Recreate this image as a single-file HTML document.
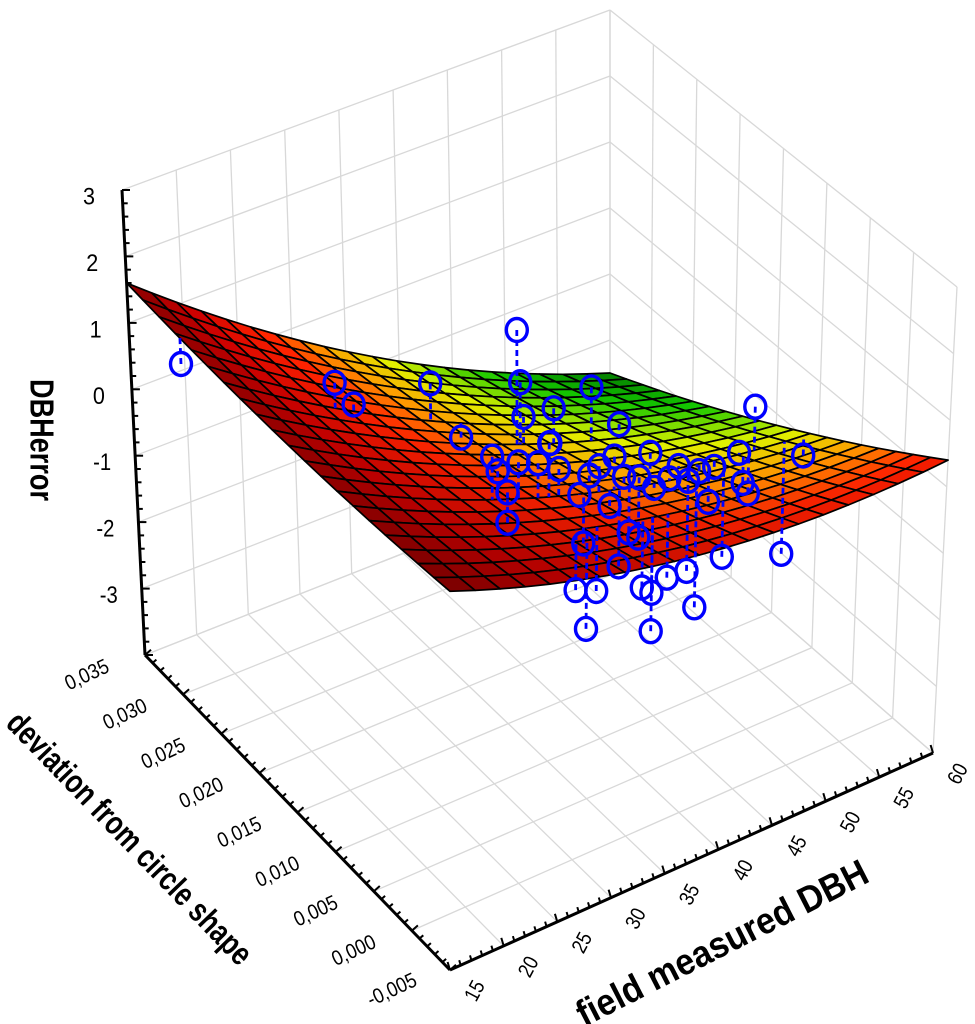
<!DOCTYPE html>
<html><head><meta charset="utf-8"><title>DBH error surface</title>
<style>html,body{margin:0;padding:0;background:#fff}svg{display:block}text{font-family:"Liberation Sans",Arial,sans-serif}</style>
</head><body>
<svg id="chart" width="975" height="1024" viewBox="0 0 975 1024" xmlns="http://www.w3.org/2000/svg">
<g id="walls"></g>
<g id="surf"></g>
<g id="pts"></g>
<g id="axes"></g>
</svg>
<script>
// ---- data ----
const dbhRange = [15, 60];
const devRange = [-0.005, 0.035];
const zRange = [-4, 3];
const dbhTicks = [15, 20, 25, 30, 35, 40, 45, 50, 55, 60];
const devTicks = [-0.005, 0.000, 0.005, 0.010, 0.015, 0.020, 0.025, 0.030, 0.035];
const devTickLabels = ["-0,005","0,000","0,005","0,010","0,015","0,020","0,025","0,030","0,035"];
const zTicks = [-3, -2, -1, 0, 1, 2, 3];
// fitted surface coefficients in normalized coords: c0 + c1*u + c2*v + c3*u*v + c4*u^2 + c5*v^2
const surfaceCoef = [1.5, -2.8, -0.4, -3.0, 1.7, 0.5];
// observations
const obsDBH = [15.4,25.1,26.8,33.9,36.7,38.9,39.2,39.5,42.3,42.0,45.8,48.4,54.8,59.4,53.4,53.8,54.3,57.6,52.0,51.1,49.7,50.6,47.8,48.7,49.5,48.7,29.1,29.6,30.5,30.5,31.5,33.3,35.2,34.3,37.1,38.0,38.9,39.9,40.3,41.2,42.6,43.6,44.0,45.4,37.5,41.7,42.6,40.8,32.3,34.2,38.4,39.3,40.7,33.3,39.3];
const obsDev = [0.029,0.023,0.023,0.023,0.023,0.019,0.019,0.019,0.019,0.019,0.019,0.019,0.011,0.011,0.011,0.011,0.011,0.011,0.011,0.011,0.011,0.011,0.011,0.011,0.011,0.011,0.009,0.009,0.009,0.009,0.009,0.009,0.009,0.009,0.009,0.009,0.009,0.009,0.009,0.009,0.009,0.009,0.009,0.009,0.009,0.009,0.009,0.009,0.003,0.003,0.003,0.003,0.003,0.003,0.003];
const obsErr = [1.04,0.83,0.40,0.27,-0.72,1.19,0.39,-0.15,-0.20,-0.70,-0.11,-0.83,-0.13,-1.17,-0.73,-1.21,-1.40,-2.53,-2.20,-0.79,-0.76,-1.28,-0.56,-0.84,-2.79,-2.19,1.02,0.77,0.40,-0.05,0.78,0.65,0.44,0.88,-0.07,0.16,0.24,-0.42,0.29,-0.07,-0.17,0.13,-0.42,-0.37,-0.82,-0.93,-1.07,-1.38,-0.51,-0.65,-0.88,-1.02,-0.89,-1.15,-1.59];

// ---- projection (u: DBH, v: deviation, w: z) ----
const FL = {a:[450,970], b:[933,753], c:[145,655], d:[610,472]};
const TP = {a:[450,488], b:[957,287], c:[122,190], d:[610,10]};
function bil(q,u,v){return [
  q.a[0]*(1-u)*(1-v)+q.b[0]*u*(1-v)+q.c[0]*(1-u)*v+q.d[0]*u*v,
  q.a[1]*(1-u)*(1-v)+q.b[1]*u*(1-v)+q.c[1]*(1-u)*v+q.d[1]*u*v];}
function P(u,v,w){const f=bil(FL,u,v),t=bil(TP,u,v);return [f[0]+(t[0]-f[0])*w,f[1]+(t[1]-f[1])*w];}
const uS = d => (d-dbhRange[0])/(dbhRange[1]-dbhRange[0]);
const vS = d => (d-devRange[0])/(devRange[1]-devRange[0]);
const wS = z => (z-zRange[0])/(zRange[1]-zRange[0]);
function surfZ(u,v){const c=surfaceCoef;return c[0]+c[1]*u+c[2]*v+c[3]*u*v+c[4]*u*u+c[5]*v*v;}

const NS="http://www.w3.org/2000/svg";
function mk(tag,attrs,parent){const e=document.createElementNS(NS,tag);for(const k in attrs)e.setAttribute(k,attrs[k]);parent.appendChild(e);return e;}
const walls=document.getElementById('walls'),surf=document.getElementById('surf'),pts=document.getElementById('pts'),axes=document.getElementById('axes');
function gl(p,q,parent,name,stroke,sw){const l=mk('line',{x1:p[0].toFixed(1),y1:p[1].toFixed(1),x2:q[0].toFixed(1),y2:q[1].toFixed(1),stroke:stroke,'stroke-width':sw},parent);


return l;}

// grid walls
const gc="#d8d8d8";
dbhTicks.forEach(d=>{const u=uS(d);gl(P(u,1,0),P(u,1,1),walls,'back-wall-gridline',gc,1.3);gl(P(u,0,0),P(u,1,0),walls,'floor-gridline',gc,1.3);});
devTicks.forEach(d=>{const v=vS(d);gl(P(1,v,0),P(1,v,1),walls,'right-wall-gridline',gc,1.3);gl(P(0,v,0),P(1,v,0),walls,'floor-gridline',gc,1.3);});
for(let z=zRange[0];z<=zRange[1];z++){const w=wS(z);gl(P(0,1,w),P(1,1,w),walls,'back-wall-gridline',gc,1.3);gl(P(1,0,w),P(1,1,w),walls,'right-wall-gridline',gc,1.3);}

// surface
const stops=[[0,[0,110,0]],[0.2,[20,200,0]],[0.38,[225,240,0]],[0.52,[255,150,0]],[0.64,[255,35,0]],[0.82,[205,0,0]],[1,[125,0,0]]];
function col(z,shade){let t=(z+2.6)/4.3;t=Math.max(0,Math.min(1,t));let i=0;while(i<stops.length-2&&t>stops[i+1][0])i++;
 const a=stops[i],b=stops[i+1],f=(t-a[0])/(b[0]-a[0]);const c=a[1].map((x,k)=>Math.round((x+(b[1][k]-x)*f)*shade));return `rgb(${c[0]},${c[1]},${c[2]})`;}
const N=20,cells=[];
for(let i=0;i<N;i++)for(let j=0;j<N;j++)cells.push([i,j]);
cells.sort((a,b)=>(b[0]+b[1])-(a[0]+a[1]));
cells.forEach(([i,j])=>{const u0=i/N,u1=(i+1)/N,v0=j/N,v1=(j+1)/N;
 const pts4=[[u0,v0],[u1,v0],[u1,v1],[u0,v1]].map(([u,v])=>P(u,v,wS(surfZ(u,v))));
 const zc=surfZ((u0+u1)/2,(v0+v1)/2);
 const shade=0.78+0.22*Math.min(1,((u0+v0)/2)*1.6+0.2);
 const p=mk('polygon',{points:pts4.map(q=>q[0].toFixed(1)+','+q[1].toFixed(1)).join(' '),fill:col(zc,shade),stroke:'#000','stroke-width':1.7,'stroke-linejoin':'round'},surf);
 
 
});

// points
obsDBH.forEach((d,k)=>{const u=uS(d),v=vS(obsDev[k]);const pz=P(u,v,wS(obsErr[k]));const sz=P(u,v,wS(surfZ(u,v)));
 const l=mk('line',{x1:pz[0].toFixed(1),y1:pz[1].toFixed(1),x2:sz[0].toFixed(1),y2:sz[1].toFixed(1),stroke:'#0000ff','stroke-width':2.8,'stroke-dasharray':'6,4'},pts);
 
 
 const c=mk('ellipse',{cx:pz[0].toFixed(1),cy:pz[1].toFixed(1),rx:10.5,ry:11.5,fill:'none',stroke:'#0000ff','stroke-width':3.4},pts);
 
 
});

// axes
gl(P(0,1,0),P(0,1,1),axes,'z-axis-line','#000',3);
gl(P(0,1,0),P(0,0,0),axes,'deviation-axis-line','#000',3);
gl(P(0,0,0),P(1,0,0),axes,'dbh-axis-line','#000',3);
function txt(x,y,s,size,rot,len,name,weight){const t=mk('text',{x:0,y:0,'font-size':size,'text-anchor':'middle','dominant-baseline':'central',transform:`translate(${x.toFixed(1)},${y.toFixed(1)}) rotate(${rot})`,fill:'#000'},axes);
 if(weight)t.setAttribute('font-weight',weight);
 if(len){t.setAttribute('textLength',len);t.setAttribute('lengthAdjust','spacingAndGlyphs');}
 t.textContent=s;
 
 
 return t;}
// z ticks
for(let z=zRange[0];z<=zRange[1]+1e-9;z+=0.2){const w=wS(z),p=P(0,1,w);const maj=Math.abs(z-Math.round(z))<1e-6;gl(p,[p[0]+(maj?8:5),p[1]],axes,'z-tick','#000',2);}
zTicks.forEach(z=>{const p=P(0,1,wS(z));txt(p[0]-33,p[1]+7,String(z),24,0,z<0?18:12,'z-tick-label');});
// dev ticks
for(let k=0;k<=40;k++){const v=k/40,p=P(0,v,0);const maj=k%5===0;const d=maj?8:5;gl(p,[p[0]+d*0.75,p[1]-d*0.65],axes,'deviation-tick','#000',2);}
devTicks.forEach((d,k)=>{const p=P(0,vS(d),0);txt(p[0]-58,p[1]+20,devTickLabels[k],21,-25,d<0?52:46,'deviation-tick-label');});
// dbh ticks
for(let d=dbhRange[0];d<=dbhRange[1];d++){const p=P(uS(d),0,0);const maj=d%5===0;const l=maj?8:5;gl(p,[p[0]-l*0.3,p[1]-l],axes,'dbh-tick','#000',2);}
dbhTicks.forEach(d=>{const p=P(uS(d),0,0);txt(p[0]+25,p[1]+21,String(d),21,-62,20,'dbh-tick-label');});
// titles
txt(42,440,'DBHerror',33,90,122,'z-axis-title','bold');
txt(130,838,'deviation from circle shape',33,46,337,'deviation-axis-title','bold');
txt(722,943,'field measured DBH',37,-27,322,'dbh-axis-title','bold');
</script>
</body></html>
